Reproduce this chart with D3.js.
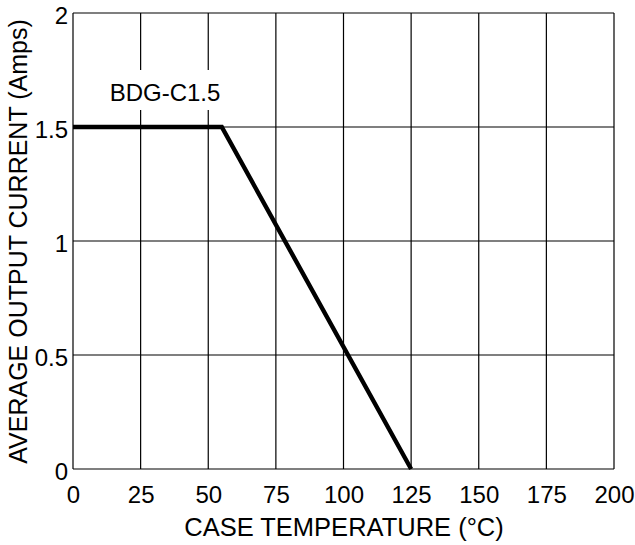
<!DOCTYPE html>
<html><head><meta charset="utf-8">
<script src="https://cdn.jsdelivr.net/npm/d3@7"></script>
<style>body{margin:0;background:#fff}svg{display:block}text{font-family:"Liberation Sans",Arial,sans-serif;fill:#000}</style>
</head><body><svg id="c" width="635" height="545"></svg>
<script>
const xTicks = [0,25,50,75,100,125,150,175,200];
const yTicks = [0,0.5,1,1.5,2];
const yTickLabels = ["0","0.5","1","1.5","2"];
const temps = [0,55,125];
const current = [1.5,1.5,0];
const seriesName = "BDG-C1.5";
const xTitle = "CASE TEMPERATURE (°C)";
const yTitle = "AVERAGE OUTPUT CURRENT (Amps)";

const svg = d3.select("#c");
const L=73,R=614,T=13,B=469;
const x = d3.scaleLinear().domain([0,200]).range([L,R]);
const y = d3.scaleLinear().domain([0,2]).range([B,T]);
const fsTick = 24;

// grid
const g = svg.append("g");
g.selectAll("line.v").data(xTicks).join("line")
 .attr("x1",d=>x(d)).attr("x2",d=>x(d)).attr("y1",T).attr("y2",B)
 .attr("stroke","#000").attr("stroke-width",1.2);
g.selectAll("line.h").data(yTicks).join("line")
 .attr("y1",d=>y(d)).attr("y2",d=>y(d)).attr("x1",L).attr("x2",R)
 .attr("stroke","#000").attr("stroke-width",1.2);

// label with white background
const lbl = svg.append("g");
lbl.append("rect").attr("x",104).attr("y",70).attr("width",122).attr("height",40).attr("fill","#fff");
lbl.append("text").attr("x",165).attr("y",100.5).attr("text-anchor","middle")
 .attr("font-size",24).text(seriesName);

// line
const data = temps.map((t,i)=>[t,current[i]]);
svg.append("path").datum(data).attr("fill","none").attr("stroke","#000").attr("stroke-width",4.4)
 .attr("d",d3.line().x(d=>x(d[0])).y(d=>y(d[1])));

// axes tick labels
const xa = d3.axisBottom(x).tickValues(xTicks).tickSize(0).tickPadding(0).tickFormat(d3.format("d"));
const xg = svg.append("g").attr("transform",`translate(0,${B})`).call(xa);
xg.select(".domain").remove();
xg.selectAll("text").attr("font-size",fsTick).attr("font-family","Liberation Sans, Arial, sans-serif").attr("fill","#000")
 .attr("dy",null).attr("y",34);
const ya = d3.axisLeft(y).tickValues(yTicks).tickSize(0).tickPadding(5).tickFormat((d,i)=>yTickLabels[i]);
const yg = svg.append("g").attr("transform",`translate(${L},0)`).call(ya);
yg.select(".domain").remove();
yg.selectAll("text").attr("font-size",fsTick).attr("font-family","Liberation Sans, Arial, sans-serif").attr("fill","#000")
 .attr("dy",null).attr("y",10);

svg.append("text").attr("x",344).attr("y",536).attr("text-anchor","middle").attr("font-size",25.5).text(xTitle);
svg.append("text").attr("transform",`translate(27,241.5) rotate(-90)`).attr("text-anchor","middle").attr("font-size",25).text(yTitle);
</script></body></html>
